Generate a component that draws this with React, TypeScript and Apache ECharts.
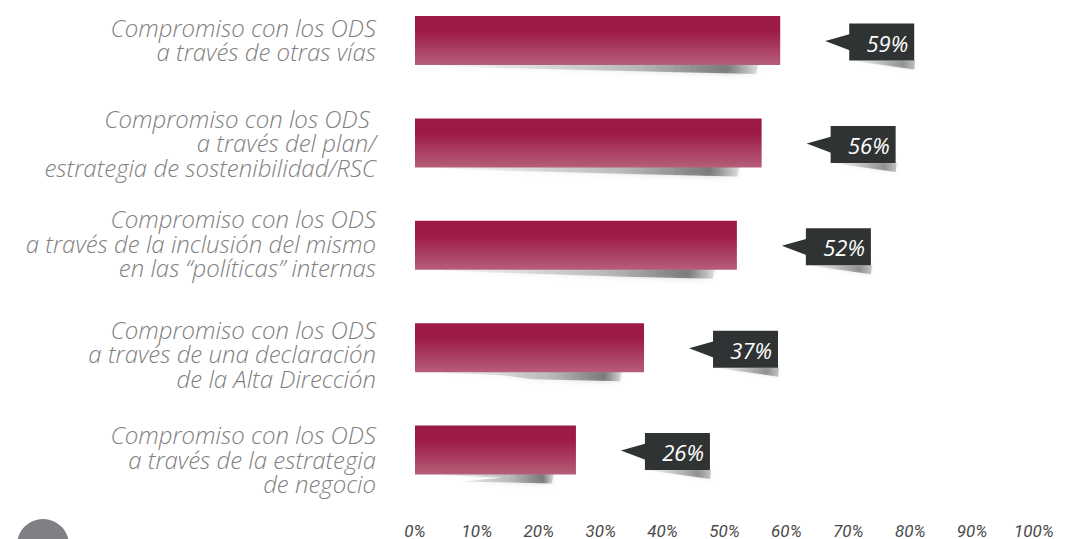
import React, { useEffect, useRef } from "react";
import * as echarts from "echarts";

const categories: string[] = [
  "Compromiso con los ODS\na través de otras vías",
  "Compromiso con los ODS \na través del plan/\nestrategia de sostenibilidad/RSC",
  "Compromiso con los ODS\na través de la inclusión del mismo\nen las “políticas” internas",
  "Compromiso con los ODS\na través de una declaración\nde la Alta Dirección",
  "Compromiso con los ODS\na través de la estrategia\nde negocio",
];
const values: number[] = [59, 56, 52, 37, 26];
const xMin = 0;
const xMax = 100;
const xInterval = 10;
const pageNumber = "22";
// vertical nudges (px, downward) of each category label relative to its bar
const labelNudge: number[] = [-1, 0, -2, 6, 9];

export default function App() {
  const ref = useRef<HTMLDivElement>(null);
  useEffect(() => {
    document.body.style.margin = "0";
    if (!ref.current) return;
    const chart = echarts.init(ref.current, undefined, { renderer: "svg" });
    const pointData = values.map((v, i) => [v, i]);
    const option: any = {
      animation: false,
      backgroundColor: "#ffffff",
      grid: { left: 415, width: 619, top: 40.5, height: 410, containLabel: false },
      xAxis: {
        type: "value",
        min: xMin,
        max: xMax,
        interval: xInterval,
        splitLine: { show: false },
        axisLine: { show: false },
        axisTick: { show: false },
        axisLabel: {
          formatter: "{value}%",
          margin: 72,
          fontFamily: "Roboto",
          fontStyle: "italic",
          fontSize: 17,
          color: "#4a4a4a",
        },
      },
      yAxis: {
        type: "category",
        data: categories,
        inverse: true,
        boundaryGap: false,
        axisLine: { show: false },
        axisTick: { show: false },
        axisLabel: { show: false },
      },
      series: [
        {
          type: "custom",
          z: 1,
          clip: false,
          data: pointData,
          encode: { x: 0, y: 1 },
          renderItem: (params: any, api: any) => {
            const v = api.value(0);
            const idx = api.value(1);
            const s = api.coord([0, idx]);
            const e = api.coord([v, idx]);
            const yb = s[1] + 24.5;
            const x0 = s[0] + 28;
            const x1 = e[0] - 22;
            return {
              type: "group",
              children: [
                {
                  type: "polygon",
                  shape: {
                    points: [
                      [x0, yb - 1],
                      [x1, yb - 1],
                      [x1 - 2, yb + 9],
                      [x1 - 90, yb + 7],
                      [x0 + 60, yb + 3],
                      [x0, yb + 1],
                    ],
                  },
                  style: {
                    fill: new echarts.graphic.LinearGradient(0, 0, 1, 0, [
                      { offset: 0, color: "rgba(60,60,60,0.03)" },
                      { offset: 0.6, color: "rgba(60,60,60,0.3)" },
                      { offset: 0.9, color: "rgba(40,40,40,0.55)" },
                      { offset: 1, color: "rgba(40,40,40,0.12)" },
                    ]),
                    shadowBlur: 6,
                    shadowColor: "rgba(0,0,0,0.3)",
                  },
                },
                {
                  type: "text",
                  style: {
                    text: categories[idx],
                    x: s[0] - 39,
                    y: s[1] + labelNudge[idx],
                    align: "right",
                    verticalAlign: "middle",
                    fill: "#808080",
                    fontFamily: "Open Sans",
                    fontStyle: "italic",
                    fontWeight: 300,
                    fontSize: 24,
                    lineHeight: 24.5,
                  },
                },
              ],
            };
          },
        },
        {
          type: "bar",
          z: 2,
          clip: false,
          data: values,
          barWidth: 49,
          itemStyle: {
            color: new echarts.graphic.LinearGradient(0, 0, 0, 1, [
              { offset: 0, color: "#9c1a46" },
              { offset: 0.3, color: "#9c1a46" },
              { offset: 1, color: "#b65e79" },
            ]),
          },
        },
        {
          type: "custom",
          z: 3,
          clip: false,
          data: pointData,
          encode: { x: 0, y: 1 },
          renderItem: (params: any, api: any) => {
            const v = api.value(0);
            const idx = api.value(1);
            const e = api.coord([v, idx]);
            const x = e[0] + 69;
            const y = e[1];
            return {
              type: "group",
              children: [
                {
                  type: "polygon",
                  shape: {
                    points: [
                      [x + 2, y + 20],
                      [x + 66, y + 20],
                      [x + 65, y + 29],
                      [x + 30, y + 24],
                    ],
                  },
                  style: {
                    fill: new echarts.graphic.LinearGradient(0, 0, 1, 0, [
                      { offset: 0, color: "rgba(60,60,60,0.03)" },
                      { offset: 0.8, color: "rgba(40,40,40,0.45)" },
                      { offset: 1, color: "rgba(40,40,40,0.25)" },
                    ]),
                    shadowBlur: 4,
                    shadowColor: "rgba(0,0,0,0.25)",
                  },
                },
                {
                  type: "polygon",
                  shape: {
                    points: [
                      [x - 24, y + 0.5],
                      [x + 1, y - 6.5],
                      [x + 1, y + 10],
                    ],
                  },
                  style: { fill: "#2f3333" },
                },
                {
                  type: "rect",
                  shape: { x: x, y: y - 17, width: 65, height: 37 },
                  style: { fill: "#2f3333" },
                },
                {
                  type: "text",
                  style: {
                    text: v + "%",
                    x: x + 59,
                    y: y + 2,
                    align: "right",
                    verticalAlign: "middle",
                    fill: "#ffffff",
                    fontFamily: "Open Sans",
                    fontStyle: "italic",
                    fontSize: 22,
                  },
                },
              ],
            };
          },
        },
      ],
      graphic: [
        {
          type: "circle",
          shape: { cx: 43, cy: 545, r: 26 },
          style: { fill: "#7f7f85" },
        },
        {
          type: "text",
          style: {
            text: pageNumber,
            x: 43,
            y: 547,
            align: "center",
            verticalAlign: "middle",
            fill: "#ffffff",
            fontFamily: "Open Sans",
            fontWeight: "bold",
            fontSize: 22,
          },
        },
      ],
    };
    chart.setOption(option);
    return () => chart.dispose();
  }, []);
  return (
    <div
      ref={ref}
      style={{ position: "absolute", left: 0, top: 0, width: 1069, height: 539 }}
    />
  );
}
